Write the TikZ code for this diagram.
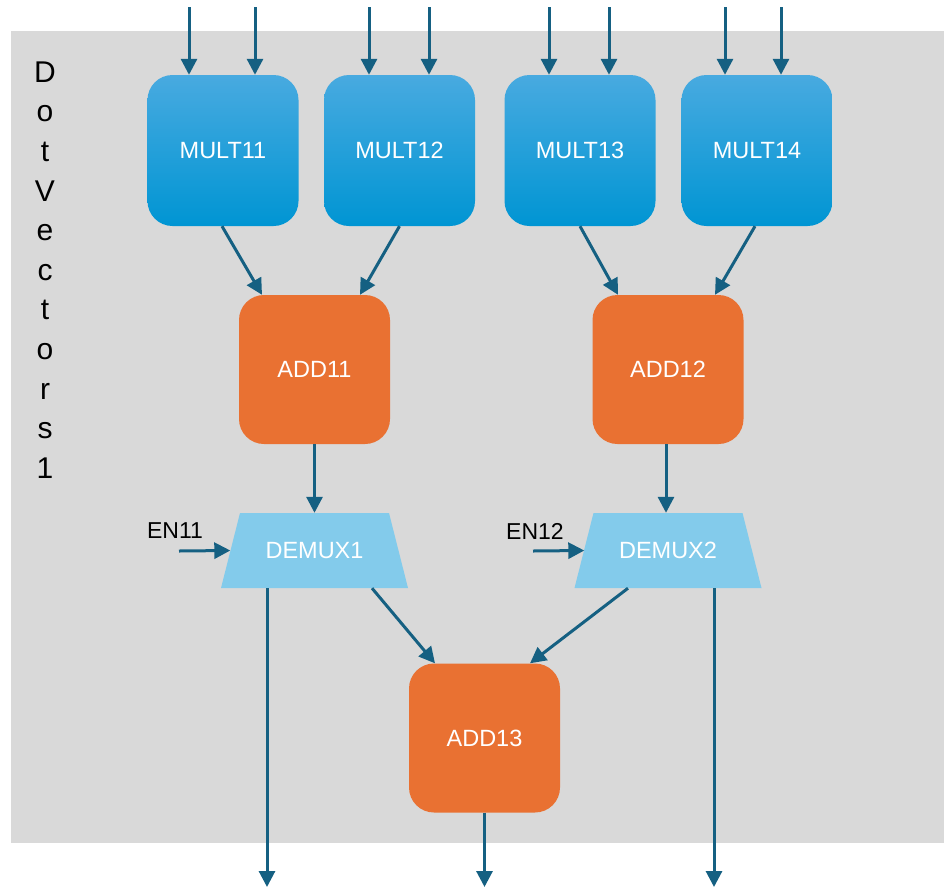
\documentclass[tikz,border=0pt]{standalone}
\usepackage{fontspec}
\setmainfont{Liberation Sans}
\usetikzlibrary{arrows.meta}
\definecolor{panel}{RGB}{217,217,217}
\definecolor{multtop}{RGB}{72,170,224}
\definecolor{multbot}{RGB}{0,149,211}
\definecolor{addc}{RGB}{233,113,50}
\definecolor{demuxc}{RGB}{131,203,235}
\definecolor{wire}{RGB}{21,96,130}
\tikzset{
  x=1pt, y=-1pt,
  boxfont/.style={font=\fontsize{23.5}{28}\selectfont},
  mult/.style={rectangle, rounded corners=25pt, minimum width=151pt, minimum height=151pt,
    top color=multtop, bottom color=multbot, draw=none, text=white,
    boxfont, inner sep=0pt},
  adder/.style={rectangle, rounded corners=25pt, minimum width=151pt, minimum height=149pt,
    fill=addc, text=white, boxfont, inner sep=0pt},
  demux/.style={rectangle, minimum width=187pt, minimum height=75pt, inner sep=0pt,
    text=white, boxfont,
    path picture={\fill[demuxc] (path picture bounding box.south west)
      -- (path picture bounding box.south east)
      -- ([xshift=-19pt]path picture bounding box.north east)
      -- ([xshift=19pt]path picture bounding box.north west) -- cycle;}},
  enlabel/.style={font=\fontsize{23}{27}\selectfont, text=black, inner sep=0pt},
  wirearrow/.style={draw=wire, line width=3pt,
    -{Triangle[length=16pt,width=16pt]}},
}
\begin{document}
\begin{tikzpicture}
\useasboundingbox (0,0) rectangle (944,889);
% panel
\fill[panel] (11,31) rectangle (944,843);
\node[align=center, font=\fontsize{30}{39.6}\selectfont, inner sep=0pt] (title) at (45,270)
  {D\\o\\t\\V\\e\\c\\t\\o\\r\\s\\1};

% multipliers
\node[mult] (m11) at (223,150.5) {MULT11};
\node[mult] (m12) at (399.5,150.5) {MULT12};
\node[mult] (m13) at (580,150.5) {MULT13};
\node[mult] (m14) at (757,150.5) {MULT14};

% adders
\node[adder] (a11) at (314.5,369.5) {ADD11};
\node[adder] (a12) at (668,369.5) {ADD12};
\node[adder] (a13) at (484.5,738) {ADD13};

% demultiplexers
\node[demux] (d1) at (314.5,550.5) {DEMUX1};
\node[demux] (d2) at (668,550.5) {DEMUX2};

% enable labels
\node[enlabel] (en11) at (175,531) {EN11};
\node[enlabel] (en12) at (535,531) {EN12};

% free ends
\coordinate (i1) at (189,7);
\coordinate (i2) at (255,7);
\coordinate (i3) at (369,7);
\coordinate (i4) at (429,7);
\coordinate (i5) at (549,7);
\coordinate (i6) at (609,7);
\coordinate (i7) at (725,7);
\coordinate (i8) at (781,7);
\coordinate (e1) at (179,551);
\coordinate (e2) at (533,551);
\coordinate (o1) at (267,887);
\coordinate (o2) at (484.5,887);
\coordinate (o3) at (714,887);

% inputs
\draw[wirearrow] (i1) -- ([xshift=-34pt]m11.north);
\draw[wirearrow] (i2) -- ([xshift=32pt]m11.north);
\draw[wirearrow] (i3) -- ([xshift=-30.5pt]m12.north);
\draw[wirearrow] (i4) -- ([xshift=29.5pt]m12.north);
\draw[wirearrow] (i5) -- ([xshift=-31pt]m13.north);
\draw[wirearrow] (i6) -- ([xshift=29pt]m13.north);
\draw[wirearrow] (i7) -- ([xshift=-32pt]m14.north);
\draw[wirearrow] (i8) -- ([xshift=24pt]m14.north);

% products into adders
\draw[wirearrow] ([xshift=-1pt]m11.south) -- ([xshift=-52.5pt]a11.north);
\draw[wirearrow] (m12.south) -- ([xshift=45.5pt]a11.north);
\draw[wirearrow] (m13.south) -- ([xshift=-50pt]a12.north);
\draw[wirearrow] ([xshift=-2pt]m14.south) -- ([xshift=47pt]a12.north);

% sums into demultiplexers
\draw[wirearrow] (a11.south) -- (d1.north);
\draw[wirearrow] ([xshift=-2pt]a12.south) -- ([xshift=-2pt]d2.north);

% enables
\draw[wirearrow] (e1) -- ([xshift=9.5pt]d1.west);
\draw[wirearrow] (e2) -- ([xshift=10pt]d2.west);

% demultiplexer outputs
\draw[wirearrow] ([xshift=-47.5pt]d1.south) -- (o1);
\draw[wirearrow] ([xshift=57.5pt]d1.south) -- ([xshift=-49.5pt]a13.north);
\draw[wirearrow] ([xshift=-40pt]d2.south) -- ([xshift=45.5pt]a13.north);
\draw[wirearrow] ([xshift=46pt]d2.south) -- (o3);
\draw[wirearrow] (a13.south) -- (o2);
\end{tikzpicture}
\end{document}
